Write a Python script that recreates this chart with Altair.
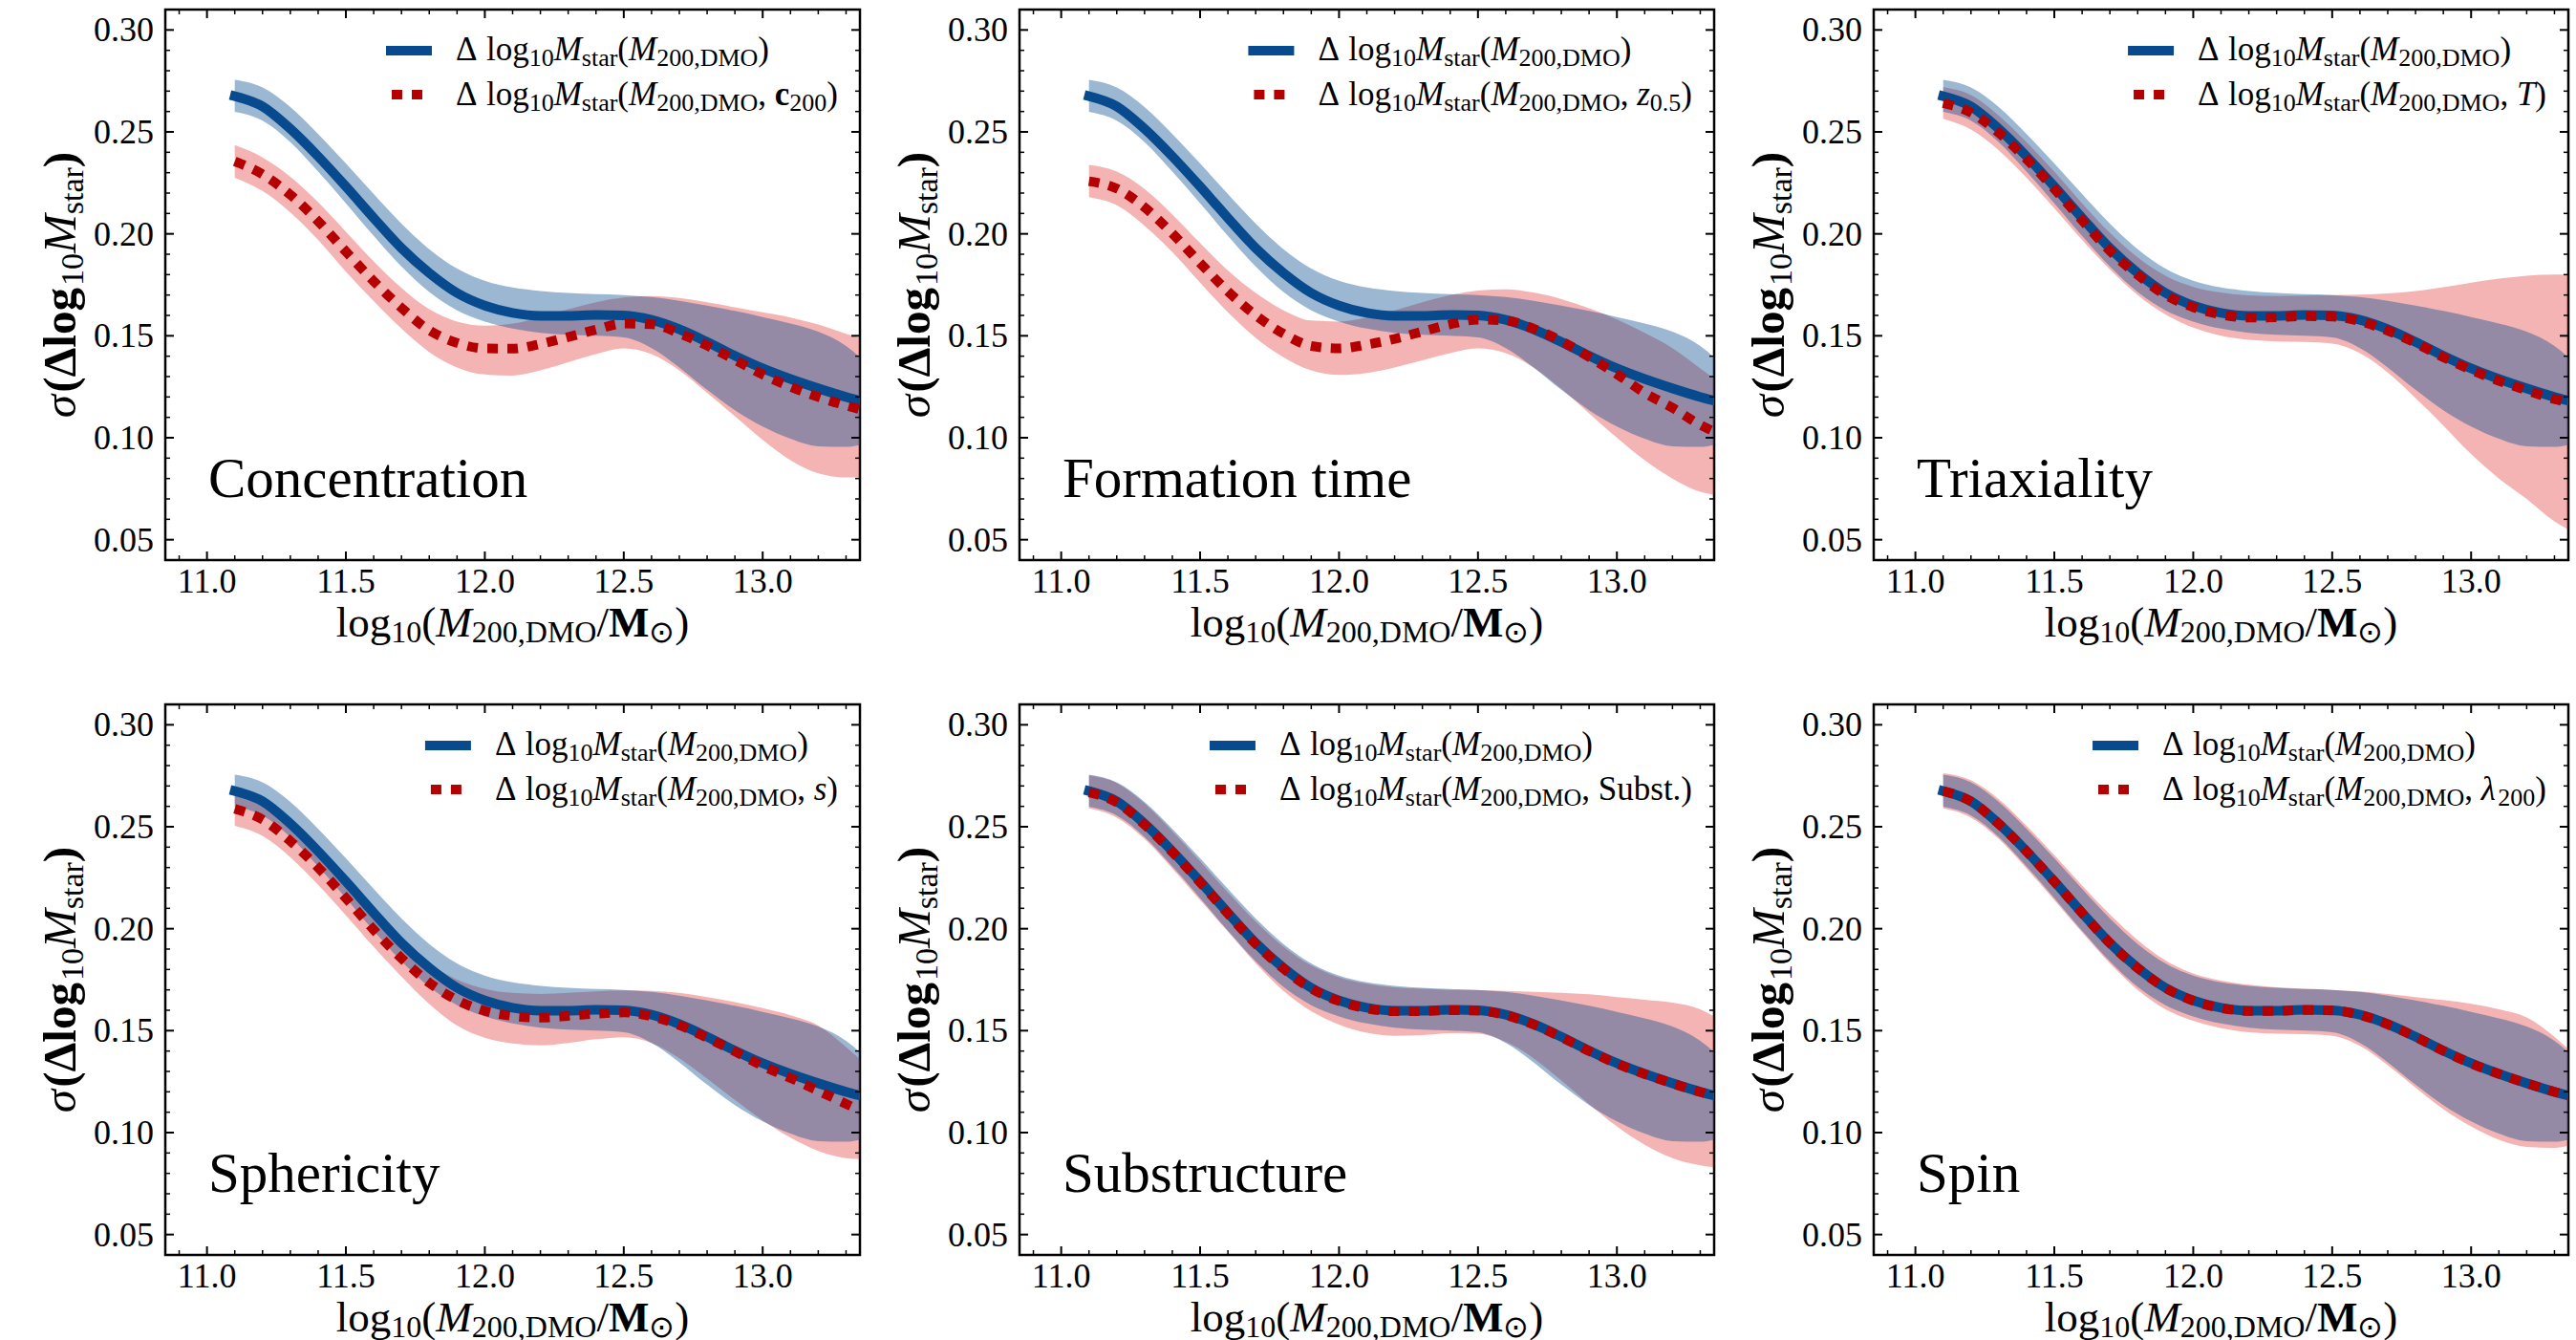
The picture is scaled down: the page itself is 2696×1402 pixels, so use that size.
import altair as alt
import pandas as pd

# ---------------- data ----------------
X_MASS = [11.1, 11.2, 11.3, 11.4, 11.5, 11.6, 11.7, 11.8, 11.9, 12.0, 12.1, 12.2,
          12.3, 12.4, 12.5, 12.6, 12.7, 12.8, 12.9, 13.0, 13.1, 13.2, 13.3, 13.35]

BASE_MID = [0.2675, 0.2625, 0.2515, 0.2380, 0.2232, 0.2078, 0.1930, 0.1808, 0.1710, 0.1648, 0.1612, 0.1598,
            0.1598, 0.1602, 0.1600, 0.1578, 0.1532, 0.1470, 0.1402, 0.1340, 0.1288, 0.1242, 0.1200, 0.1182]
BASE_HI = [0.2755, 0.2718, 0.2622, 0.2490, 0.2345, 0.2195, 0.2050, 0.1925, 0.1830, 0.1770, 0.1737, 0.1720,
           0.1710, 0.1704, 0.1700, 0.1690, 0.1672, 0.1648, 0.1622, 0.1592, 0.1560, 0.1520, 0.1450, 0.1395]
BASE_LO = [0.2598, 0.2555, 0.2450, 0.2305, 0.2150, 0.1990, 0.1840, 0.1715, 0.1625, 0.1570, 0.1535, 0.1515,
           0.1505, 0.1500, 0.1492, 0.1440, 0.1345, 0.1235, 0.1135, 0.1055, 0.0995, 0.0958, 0.0955, 0.0965]

CONC_MID = [0.2355, 0.2292, 0.2192, 0.2062, 0.1913, 0.1768, 0.1637, 0.1527, 0.1465, 0.1438, 0.1437, 0.1460,
            0.1494, 0.1530, 0.1560, 0.1557, 0.1512, 0.1452, 0.1382, 0.1310, 0.1250, 0.1200, 0.1158, 0.1140]
CONC_HI = [0.2435, 0.2375, 0.2280, 0.2155, 0.2010, 0.1865, 0.1735, 0.1630, 0.1570, 0.1550, 0.1560, 0.1590,
           0.1630, 0.1665, 0.1688, 0.1695, 0.1685, 0.1665, 0.1640, 0.1615, 0.1590, 0.1555, 0.1510, 0.1490]
CONC_LO = [0.2275, 0.2210, 0.2105, 0.1970, 0.1815, 0.1670, 0.1535, 0.1420, 0.1345, 0.1310, 0.1305, 0.1330,
           0.1370, 0.1410, 0.1438, 0.1410, 0.1330, 0.1220, 0.1105, 0.0990, 0.0890, 0.0825, 0.0805, 0.0805]

FORM_MID = [0.2258, 0.2222, 0.2130, 0.2002, 0.1857, 0.1718, 0.1601, 0.1510, 0.1450, 0.1438, 0.1457, 0.1485,
            0.1521, 0.1556, 0.1579, 0.1575, 0.1535, 0.1474, 0.1396, 0.1312, 0.1220, 0.1147, 0.1063, 0.1030]
FORM_HI = [0.2338, 0.2305, 0.2220, 0.2095, 0.1955, 0.1820, 0.1710, 0.1625, 0.1575, 0.1570, 0.1590, 0.1625,
           0.1665, 0.1700, 0.1722, 0.1728, 0.1712, 0.1680, 0.1635, 0.1580, 0.1515, 0.1440, 0.1340, 0.1290]
FORM_LO = [0.2180, 0.2140, 0.2040, 0.1910, 0.1760, 0.1615, 0.1490, 0.1395, 0.1330, 0.1308, 0.1318, 0.1345,
           0.1380, 0.1415, 0.1438, 0.1415, 0.1345, 0.1240, 0.1120, 0.1000, 0.0890, 0.0800, 0.0735, 0.0720]

TRIAX_MID = [0.2641, 0.2595, 0.2496, 0.2367, 0.2221, 0.2067, 0.1917, 0.1799, 0.1700, 0.1640, 0.1604, 0.1589,
             0.1591, 0.1596, 0.1594, 0.1571, 0.1525, 0.1465, 0.1395, 0.1333, 0.1279, 0.1233, 0.1189, 0.1175]
TRIAX_HI = [0.2720, 0.2680, 0.2580, 0.2450, 0.2305, 0.2150, 0.2005, 0.1885, 0.1795, 0.1740, 0.1712, 0.1698,
            0.1695, 0.1697, 0.1700, 0.1702, 0.1708, 0.1720, 0.1738, 0.1760, 0.1780, 0.1795, 0.1800, 0.1800]
TRIAX_LO = [0.2565, 0.2512, 0.2410, 0.2275, 0.2125, 0.1970, 0.1825, 0.1700, 0.1605, 0.1540, 0.1500, 0.1480,
            0.1472, 0.1470, 0.1462, 0.1415, 0.1320, 0.1195, 0.1060, 0.0920, 0.0800, 0.0700, 0.0590, 0.0550]

SPHER_MID = [0.2588, 0.2535, 0.2430, 0.2300, 0.2150, 0.1995, 0.1855, 0.1735, 0.1650, 0.1597, 0.1572, 0.1564,
             0.1572, 0.1583, 0.1589, 0.1570, 0.1527, 0.1465, 0.1398, 0.1327, 0.1268, 0.1205, 0.1141, 0.1110]
SPHER_HI = [0.2665, 0.2612, 0.2510, 0.2380, 0.2232, 0.2080, 0.1945, 0.1830, 0.1750, 0.1705, 0.1685, 0.1680,
            0.1685, 0.1692, 0.1697, 0.1695, 0.1685, 0.1665, 0.1640, 0.1610, 0.1575, 0.1525, 0.1420, 0.1360]
SPHER_LO = [0.2505, 0.2455, 0.2350, 0.2215, 0.2065, 0.1910, 0.1765, 0.1630, 0.1525, 0.1465, 0.1437, 0.1428,
            0.1440, 0.1458, 0.1468, 0.1440, 0.1365, 0.1265, 0.1160, 0.1060, 0.0975, 0.0910, 0.0875, 0.0870]

SUBST_MID = [0.2668, 0.2620, 0.2510, 0.2376, 0.2228, 0.2074, 0.1926, 0.1804, 0.1706, 0.1645, 0.1609, 0.1595,
             0.1596, 0.1600, 0.1598, 0.1576, 0.1530, 0.1468, 0.1400, 0.1338, 0.1287, 0.1241, 0.1199, 0.1180]
SUBST_HI = [0.2752, 0.2715, 0.2615, 0.2478, 0.2330, 0.2178, 0.2035, 0.1912, 0.1820, 0.1762, 0.1730, 0.1713,
            0.1705, 0.1700, 0.1698, 0.1695, 0.1690, 0.1685, 0.1678, 0.1665, 0.1652, 0.1638, 0.1605, 0.1570]
SUBST_LO = [0.2590, 0.2545, 0.2440, 0.2295, 0.2140, 0.1985, 0.1830, 0.1695, 0.1595, 0.1530, 0.1490, 0.1475,
            0.1478, 0.1488, 0.1485, 0.1445, 0.1365, 0.1255, 0.1140, 0.1030, 0.0940, 0.0875, 0.0840, 0.0830]

SPIN_MID = [0.2675, 0.2624, 0.2514, 0.2379, 0.2231, 0.2077, 0.1929, 0.1807, 0.1709, 0.1647, 0.1611, 0.1597,
            0.1597, 0.1601, 0.1599, 0.1577, 0.1531, 0.1469, 0.1401, 0.1339, 0.1288, 0.1242, 0.1200, 0.1181]
SPIN_HI = [0.2762, 0.2728, 0.2635, 0.2505, 0.2360, 0.2212, 0.2070, 0.1945, 0.1845, 0.1780, 0.1745, 0.1725,
           0.1712, 0.1705, 0.1700, 0.1692, 0.1680, 0.1665, 0.1650, 0.1632, 0.1605, 0.1565, 0.1470, 0.1410]
SPIN_LO = [0.2590, 0.2545, 0.2440, 0.2295, 0.2140, 0.1982, 0.1830, 0.1700, 0.1605, 0.1548, 0.1512, 0.1492,
           0.1485, 0.1483, 0.1475, 0.1425, 0.1330, 0.1220, 0.1115, 0.1030, 0.0965, 0.0930, 0.0925, 0.0935]

PANEL_LABELS = ["Concentration", "Formation time", "Triaxiality", "Sphericity", "Substructure", "Spin"]
RED_SERIES = [(CONC_MID, CONC_LO, CONC_HI), (FORM_MID, FORM_LO, FORM_HI), (TRIAX_MID, TRIAX_LO, TRIAX_HI),
              (SPHER_MID, SPHER_LO, SPHER_HI), (SUBST_MID, SUBST_LO, SUBST_HI), (SPIN_MID, SPIN_LO, SPIN_HI)]

X_MAJOR = [11.0, 11.5, 12.0, 12.5, 13.0]
X_TICK_LABELS = ["11.0", "11.5", "12.0", "12.5", "13.0"]
X_MINOR = [10.9, 11.1, 11.2, 11.3, 11.4, 11.6, 11.7, 11.8, 11.9, 12.1, 12.2, 12.3, 12.4,
           12.6, 12.7, 12.8, 12.9, 13.1, 13.2, 13.3]
Y_MAJOR = [0.05, 0.10, 0.15, 0.20, 0.25, 0.30]
Y_TICK_LABELS = ["0.05", "0.10", "0.15", "0.20", "0.25", "0.30"]
Y_MINOR = [0.06, 0.07, 0.08, 0.09, 0.11, 0.12, 0.13, 0.14, 0.16, 0.17, 0.18, 0.19,
           0.21, 0.22, 0.23, 0.24, 0.26, 0.27, 0.28, 0.29]

# ---------------- style ----------------
FONT = "Liberation Serif"
BLUE = "#074b8e"
RED_LINE = "#b40000"
RED_FILL = "#da0505"
W, H = 727, 576
LABEL_SIZE = 36
XSC = alt.Scale(domain=[10.85, 13.35], nice=False, zero=False)
YSC = alt.Scale(domain=[0.04, 0.31], nice=False, zero=False)

# Times/Liberation Serif advance widths (per 1000 em)
REG = {' ': 250, '(': 333, ')': 333, ',': 250, '.': 250, '/': 278, 'a': 444, 'b': 500, 'c': 444,
       'g': 500, 'l': 278, 'o': 500, 'r': 333, 's': 389, 't': 278, 'u': 500, 'D': 722, 'M': 889,
       'O': 722, 'S': 556, 'Δ': 612, '⊙': 838}
ITA = {'M': 833, 'T': 556, 's': 389, 'z': 389, 'σ': 540, 'λ': 500}
BLD = {'M': 944, 'c': 444, '(': 333, ')': 333, 'Δ': 667, 'l': 278, 'o': 500, 'g': 500}


def tw(txt, size, style, weight):
    tab = ITA if style == "italic" else (BLD if weight == "bold" else REG)
    return sum(tab.get(ch, REG.get(ch, 500)) for ch in txt) / 1000.0 * size


ONE = alt.Data(values=[{"k": 0}])


def text_layer(txt, x, y, size, style="normal", weight="normal", angle=None):
    kw = dict(text=txt, font=FONT, fontSize=size, fontStyle=style, fontWeight=weight,
              align="left", baseline="alphabetic", color="black")
    if angle is not None:
        kw["angle"] = angle
    return alt.Chart(ONE).mark_text(**kw).encode(x=alt.value(x), y=alt.value(y))


def piece_fmt(kind, size, sub, shift):
    if kind == "sub":
        return sub, "normal", "normal", shift
    if kind == "i":
        return size, "italic", "normal", 0
    if kind == "b":
        return size, "normal", "bold", 0
    return size, "normal", "normal", 0


def rich_width(pieces, size, sub):
    total = 0.0
    for txt, kind in pieces:
        if kind == "gap":
            total += txt * size
            continue
        fs, st, wt, _ = piece_fmt(kind, size, sub, 0)
        total += tw(txt, fs, st, wt)
    return total


def rich(pieces, x0, y0, size, sub, shift, angle=None):
    layers, off = [], 0.0
    for txt, kind in pieces:
        if kind == "gap":
            off += txt * size
            continue
        fs, st, wt, sh = piece_fmt(kind, size, sub, shift)
        if angle == 270:
            x, y = x0 + sh, y0 - off
        else:
            x, y = x0 + off, y0 + sh
        layers.append(text_layer(txt, x, y, fs, st, wt, angle))
        off += tw(txt, fs, st, wt)
    return layers


LEG_COMMON = [("Δ", "n"), (0.3, "gap"), ("log", "n"), ("10", "sub"), ("M", "i"), ("star", "sub"),
              ("(", "n"), ("M", "i"), ("200,DMO", "sub")]
LEG_EXTRA = [
    [(",", "n"), (0.25, "gap"), ("c", "b"), ("200", "sub"), (")", "n")],
    [(",", "n"), (0.25, "gap"), ("z", "i"), ("0.5", "sub"), (")", "n")],
    [(",", "n"), (0.25, "gap"), ("T", "i"), (")", "n")],
    [(",", "n"), (0.25, "gap"), ("s", "i"), (")", "n")],
    [(",", "n"), (0.25, "gap"), ("Subst.", "n"), (")", "n")],
    [(",", "n"), (0.25, "gap"), ("λ", "i"), ("200", "sub"), (")", "n")],
]
XTITLE = [("log", "n"), ("10", "sub"), ("(", "n"), ("M", "i"), ("200,DMO", "sub"), ("/", "n"),
          ("M", "b"), ("⊙", "sub"), (")", "n")]
YTITLE = [("σ", "i"), ("(Δlog", "b"), ("10", "sub"), ("M", "i"), ("star", "sub"), (")", "b")]

LF, LS, LSH = 35, 26, 6
XF, XS_, XSH = 45, 32, 6
YF, YS_, YSH = 49, 34, 8


def tick_rules(values, axis, major):
    ln = 9 if major else 5
    sw = 2 if major else 1.5
    df = pd.DataFrame({"t": values})
    out = []
    if axis == "x":
        enc = alt.X("t:Q", scale=XSC, axis=None)
        out.append(alt.Chart(df).mark_rule(color="black", strokeWidth=sw).encode(
            x=enc, y=alt.value(H), y2=alt.value(H - ln)))
        out.append(alt.Chart(df).mark_rule(color="black", strokeWidth=sw).encode(
            x=enc, y=alt.value(0), y2=alt.value(ln)))
    else:
        enc = alt.Y("t:Q", scale=YSC, axis=None)
        out.append(alt.Chart(df).mark_rule(color="black", strokeWidth=sw).encode(
            y=enc, x=alt.value(0), x2=alt.value(ln)))
        out.append(alt.Chart(df).mark_rule(color="black", strokeWidth=sw).encode(
            y=enc, x=alt.value(W), x2=alt.value(W - ln)))
    return out


def tick_labels():
    dx = pd.DataFrame({"t": X_MAJOR, "lab": X_TICK_LABELS})
    dy = pd.DataFrame({"t": Y_MAJOR, "lab": Y_TICK_LABELS})
    xl = alt.Chart(dx).mark_text(font=FONT, fontSize=LABEL_SIZE, align="center", baseline="alphabetic",
                                 color="black").encode(
        x=alt.X("t:Q", scale=XSC, axis=None), y=alt.value(H + 34), text="lab:N")
    yl = alt.Chart(dy).mark_text(font=FONT, fontSize=LABEL_SIZE, align="right", baseline="alphabetic",
                                 color="black", dy=12).encode(
        y=alt.Y("t:Q", scale=YSC, axis=None), x=alt.value(-12), text="lab:N")
    return [xl, yl]


def panel(i):
    mid, lo, hi = RED_SERIES[i]
    df = pd.DataFrame({"x": X_MASS, "b": BASE_MID, "blo": BASE_LO, "bhi": BASE_HI,
                       "r": mid, "rlo": lo, "rhi": hi})
    base = alt.Chart(df)
    xe = alt.X("x:Q", scale=XSC, axis=None)
    red_band = base.mark_area(color=RED_FILL, opacity=0.3, interpolate="monotone", clip=True).encode(
        x=xe, y=alt.Y("rlo:Q", scale=YSC, axis=None), y2="rhi:Q")
    blue_band = base.mark_area(color=BLUE, opacity=0.4, interpolate="monotone", clip=True).encode(
        x=xe, y=alt.Y("blo:Q", scale=YSC, axis=None), y2="bhi:Q")
    blue_line = base.mark_line(color=BLUE, strokeWidth=10, interpolate="monotone", clip=True,
                               strokeCap="square").encode(
        x=xe, y=alt.Y("b:Q", scale=YSC, axis=None))
    red_line = base.mark_line(color=RED_LINE, strokeWidth=10, interpolate="monotone", clip=True,
                              strokeDash=[11, 10]).encode(
        x=xe, y=alt.Y("r:Q", scale=YSC, axis=None))
    layers = [red_band, blue_band, blue_line, red_line]
    layers += tick_rules(X_MAJOR, "x", True) + tick_rules(X_MINOR, "x", False)
    layers += tick_rules(Y_MAJOR, "y", True) + tick_rules(Y_MINOR, "y", False)
    layers += tick_labels()

    # legend (right aligned, upper right)
    row1 = LEG_COMMON + [(")", "n")]
    row2 = LEG_COMMON + LEG_EXTRA[i]
    wmax = max(rich_width(row1, LF, LS), rich_width(row2, LF, LS))
    tx = 704 - wmax
    sx = tx - 73
    layers.append(alt.Chart(ONE).mark_rule(color=BLUE, strokeWidth=10).encode(
        x=alt.value(sx), x2=alt.value(sx + 48), y=alt.value(43)))
    layers.append(alt.Chart(ONE).mark_rule(color=RED_LINE, strokeWidth=10, strokeDash=[11, 10]).encode(
        x=alt.value(sx + 6), x2=alt.value(sx + 38), y=alt.value(89)))
    layers += rich(row1, tx, 53, LF, LS, LSH)
    layers += rich(row2, tx, 100, LF, LS, LSH)

    # panel label
    layers.append(text_layer(PANEL_LABELS[i], 45, 510, 59))

    # x title (centred under the panel)
    xw = rich_width(XTITLE, XF, XS_)
    layers += rich(XTITLE, W / 2 - xw / 2, 656, XF, XS_, XSH)
    # y title (rotated)
    yw = rich_width(YTITLE, YF, YS_)
    layers += rich(YTITLE, -94, H / 2 + yw / 2, YF, YS_, YSH, angle=270)

    return alt.layer(*layers).properties(width=W, height=H)


P = [panel(i) for i in range(6)]
chart = alt.concat(*P, columns=3, spacing={"row": 151, "column": 167}, bounds="flush").properties(
    padding={"left": 38, "top": 7, "right": 0, "bottom": 0}, background="white"
).configure_view(stroke="black", strokeWidth=2.5)

chart.save("out.html", embed_options={"renderer": "svg", "actions": False})
